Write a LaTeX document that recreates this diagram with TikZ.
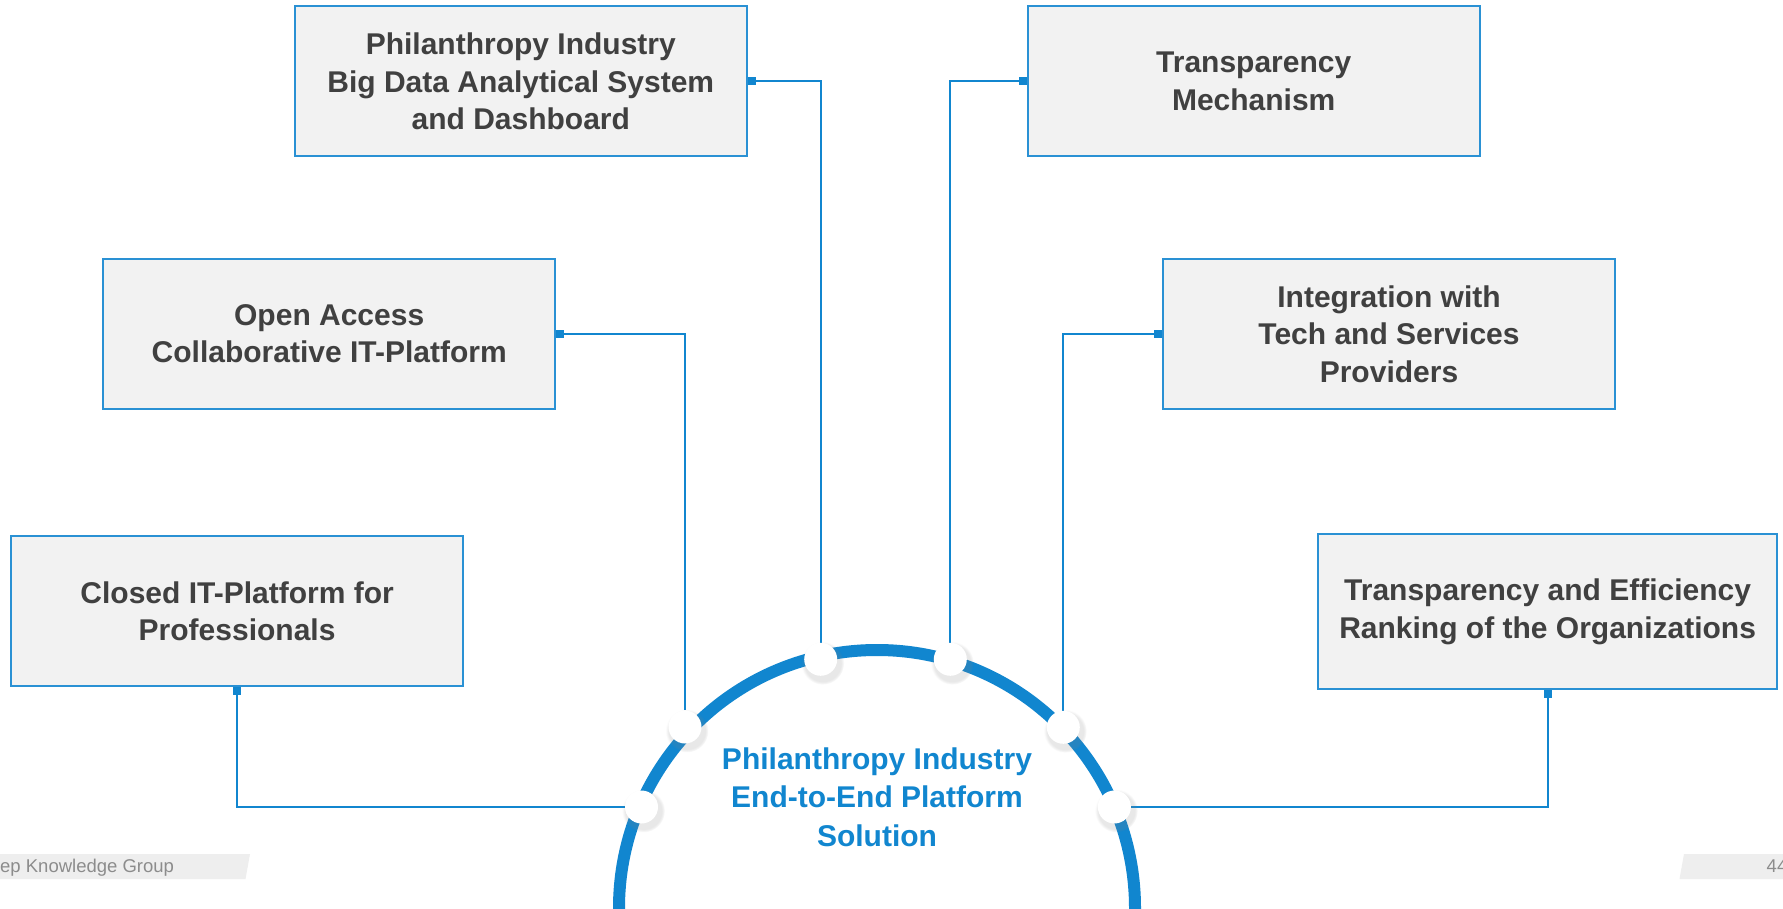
\documentclass[tikz,border=0pt]{standalone}
\usepackage{fontspec}
\setmainfont{Liberation Sans}
\usetikzlibrary{shadows,positioning}
\definecolor{pblue}{HTML}{1186CF}
\definecolor{pline}{HTML}{2A91D4}
\definecolor{ptext}{HTML}{404040}
\definecolor{pfill}{HTML}{F2F2F2}
\definecolor{pfoot}{HTML}{EEEEEE}
\definecolor{pfoottext}{HTML}{8C8C8C}
\pgfdeclarelayer{back}
\pgfsetlayers{back,main}
\tikzset{
    panel/.style={
        draw=pline,
        line width=1.8pt,
        fill=pfill,
        minimum width=452pt,
        minimum height=150pt,
        align=center,
        text=ptext,
        font=\fontsize{30}{37.5}\selectfont\bfseries
    },
    hub/.style={
        align=center,
        text=pblue,
        font=\fontsize{30}{38.5}\selectfont\bfseries
    },
    joint/.style={
        circle,
        fill=white,
        minimum size=33pt,
        inner sep=0pt,
        circular drop shadow={shadow xshift=1.5pt,shadow yshift=-3pt,shadow scale=1.3,opacity=0.18}
    },
    link/.style={
        draw=pblue,
        line width=2pt
    },
    tab/.style={
        fill=pblue,
        minimum width=8pt,
        minimum height=8pt,
        inner sep=0pt
    },
    foot/.style={
        text=pfoottext,
        inner sep=0pt,
        font=\fontsize{18.5}{20}\selectfont
    }
}

\begin{document}
\begin{tikzpicture}[x=1pt,y=-1pt]
  \clip (0,0) rectangle (1783,909);

  \node[panel] (bigdata) at (520.8,81.3) {Philanthropy Industry\\Big Data Analytical System\\and Dashboard};
  \node[panel] (mechanism) at (1253.7,81.3) {Transparency\\Mechanism};
  \node[panel] (openaccess) at (329.2,333.8) {Open Access\\Collaborative IT-Platform};
  \node[panel] (integration) at (1389,333.8) {Integration with\\Tech and Services\\Providers};
  \node[panel] (closed) at (237.1,611.2) {Closed IT-Platform for\\Professionals};
  \node[panel,minimum width=459pt,minimum height=155pt] (ranking) at (1547.6,611.8) {Transparency and Efficiency\\Ranking of the Organizations};

  \node[tab,anchor=west] (bigdatatab) at (bigdata.east) {};
  \node[tab,anchor=east] (mechanismtab) at (mechanism.west) {};
  \node[tab,anchor=west] (openaccesstab) at (openaccess.east) {};
  \node[tab,anchor=east] (integrationtab) at (integration.west) {};
  \node[tab,anchor=north] (closedtab) at (closed.south) {};
  \node[tab,anchor=north] (rankingtab) at (ranking.south) {};

  \node[joint] (jBL) at (641.5,807) {};
  \node[joint] (jML) at (685,727) {};
  \node[joint] (jTL) at (820.7,659.3) {};
  \node[joint] (jTR) at (950.3,659.3) {};
  \node[joint] (jMR) at (1063.3,727.3) {};
  \node[joint] (jBR) at (1114.4,807) {};

  \node[hub] (platform) at (877,797) {Philanthropy Industry\\End-to-End Platform\\Solution};

  \begin{pgfonlayer}{back}
    \fill[white] (0,0) rectangle (1783,909);
    \draw[link] (bigdata.east) -| (jTL);
    \draw[link] (mechanism.west) -| (jTR);
    \draw[link] (openaccess.east) -| (jML);
    \draw[link] (integration.west) -| (jMR);
    \draw[link] (closed.south) |- (jBL);
    \draw[link] (ranking.south) |- (jBR);
    \draw[pblue,line width=12pt] (877,908) circle (258pt);
  \end{pgfonlayer}

  \fill[pfoot] (0,854) -- (250,854) -- (245.5,879) -- (0,879) -- cycle;
  \node[foot,anchor=base west] (group) at (0,872) {ep Knowledge Group};
  \fill[pfoot] (1684,854) -- (1783,854) -- (1783,879) -- (1679.5,879) -- cycle;
  \node[foot,anchor=base west] (page) at (1766.5,872) {44};
\end{tikzpicture}
\end{document}
